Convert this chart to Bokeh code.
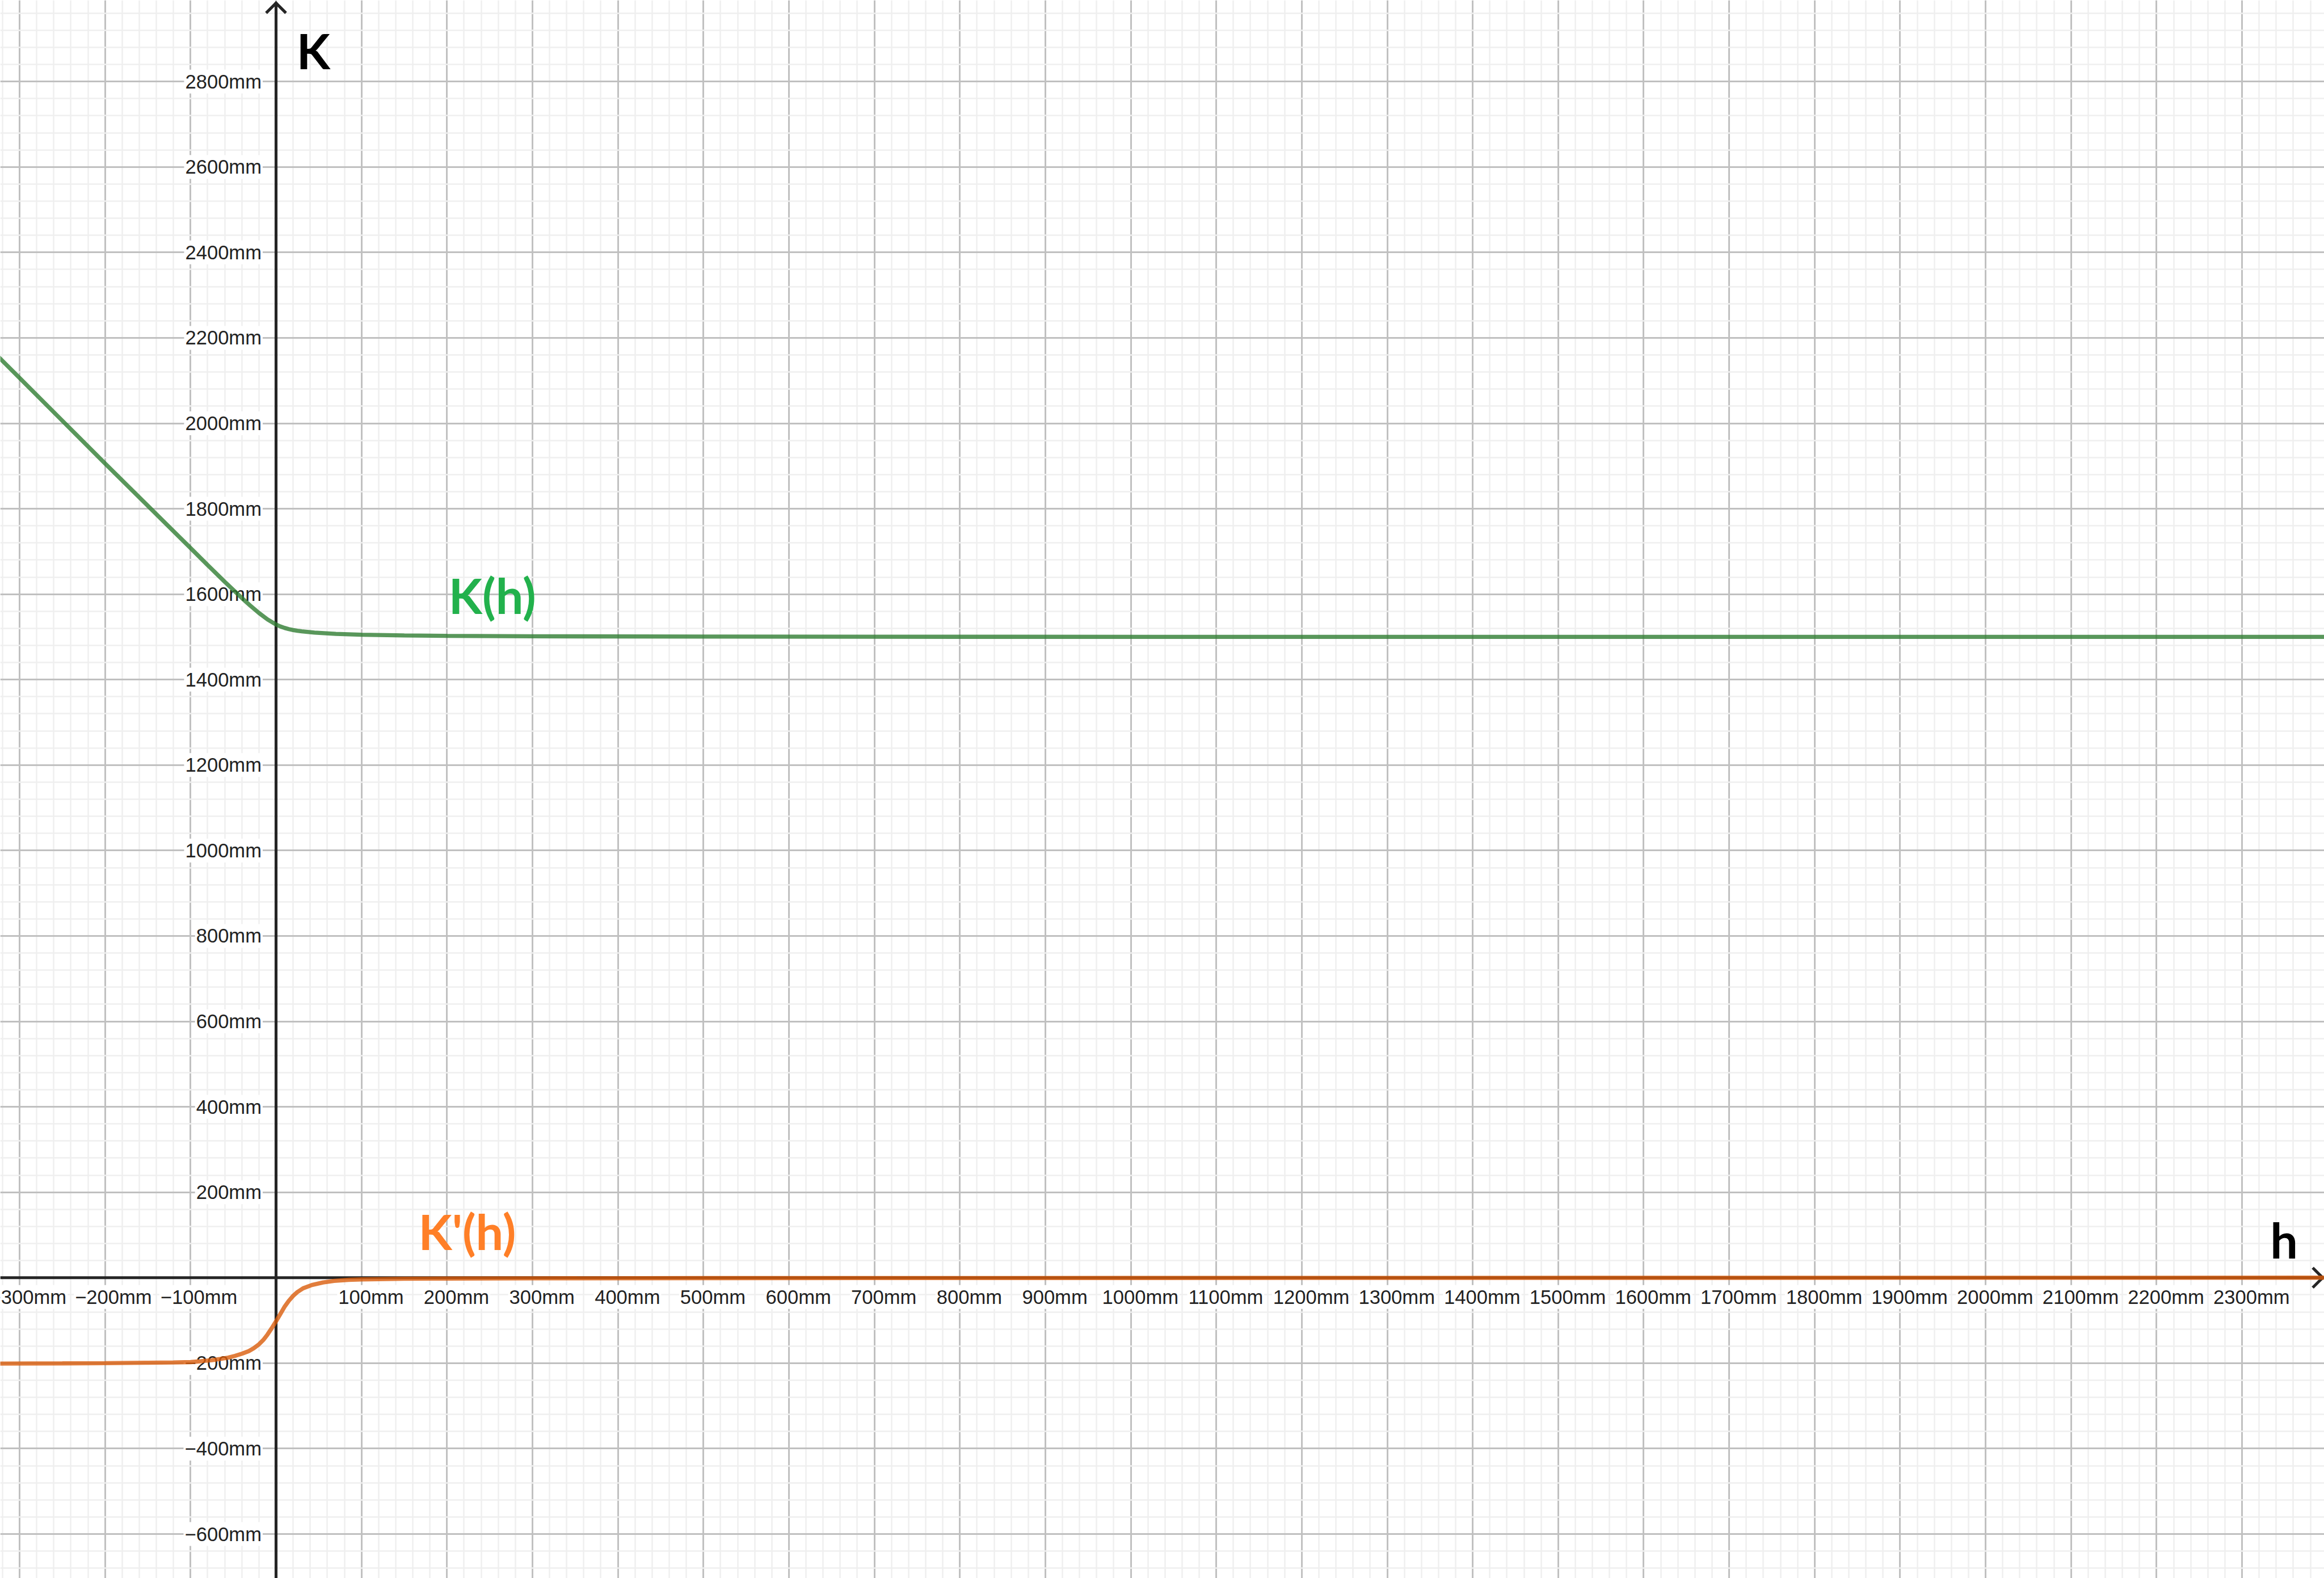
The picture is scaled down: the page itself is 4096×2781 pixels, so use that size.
from bokeh.plotting import figure
from bokeh.models import Range1d, Grid, SingleIntervalTicker, ColumnDataSource
from bokeh.core.properties import value
from bokeh.embed import file_html
from bokeh.resources import INLINE

# ---------------- data (mm) ----------------
h_K = [-325, -300, -250, -200, -150, -100, -80, -60, -50, -40, -30, -20, -10, -5,
       0, 5, 10, 15, 20, 25, 30, 45, 70, 100, 150, 200, 300, 500, 800, 1200, 2400]
K_vals = [2156, 2106, 2006, 1906, 1807, 1708, 1668, 1629, 1610, 1591, 1573, 1556, 1541, 1535,
          1529, 1524.5, 1521, 1518.2, 1516, 1514.3, 1513, 1510, 1507, 1505, 1503.5, 1502.5,
          1501.5, 1500.8, 1500.3, 1500, 1500]

h_dK = [-325, -250, -200, -150, -120, -100, -88, -75, -65, -56, -48, -40, -32, -26, -20,
        -15, -10, -5, 0, 5, 10, 15, 20, 25, 32, 42, 55, 68, 85, 100, 150, 200, 300, 500,
        1000, 1600, 2400]
dK_vals = [-201, -200.5, -200, -199, -198.3, -197.5, -195.5, -193, -190, -187, -183, -178,
           -172, -165, -156, -146, -133, -118, -102, -85, -68, -54, -42.5, -33.5, -24.5,
           -17, -11, -7.5, -5, -4, -2.5, -2, -1.5, -1, -0.6, -0.3, 0]

x_tick_values = [-300, -200, -100, 100, 200, 300, 400, 500, 600, 700, 800, 900, 1000, 1100,
                 1200, 1300, 1400, 1500, 1600, 1700, 1800, 1900, 2000, 2100, 2200, 2300]
y_tick_values = [-600, -400, -200, 200, 400, 600, 800, 1000, 1200, 1400, 1600, 1800, 2000,
                 2200, 2400, 2600, 2800]
x_tick_labels = [f"{v}mm".replace("-", "\u2212") for v in x_tick_values]
y_tick_labels = [f"{v}mm".replace("-", "\u2212") for v in y_tick_values]

# ---------------- layout ----------------
S = 4096 / 4176.0
W, H = 4096, 2781
X0, X1 = -322.6, 2396.2
Y0, Y1 = -703.6, 2990.2
PXX = W / (X1 - X0)   # screen px per mm (x)
PXY = H / (Y1 - Y0)   # screen px per mm (y)

p = figure(width=W, height=H, x_range=Range1d(X0, X1), y_range=Range1d(Y0, Y1),
           x_axis_type=None, y_axis_type=None, output_backend="svg",
           toolbar_location=None, min_border=0, outline_line_color=None, title=None,
           background_fill_color="white", border_fill_color="white")

gx = Grid(dimension=0, ticker=SingleIntervalTicker(interval=100, num_minor_ticks=5),
          grid_line_color="#c0c0c0", grid_line_width=3 * S,
          minor_grid_line_color="#efefef", minor_grid_line_width=2.5 * S)
gy = Grid(dimension=1, ticker=SingleIntervalTicker(interval=200, num_minor_ticks=5),
          grid_line_color="#c0c0c0", grid_line_width=3 * S,
          minor_grid_line_color="#efefef", minor_grid_line_width=2.5 * S)
p.add_layout(gx, "center")
p.add_layout(gy, "center")

AX = "#252525"
# axes with open arrow heads
x_tip = X1 - 3 * S / PXX
y_tip = Y1 - 5 * S / PXY
arm = 16 * S
p.segment(x0=[X0, 0], y0=[0, Y0], x1=[x_tip, 0], y1=[0, y_tip],
          line_color=AX, line_width=5.2 * S)
p.segment(x0=[x_tip - arm / PXX, x_tip - arm / PXX, -arm / PXX, arm / PXX],
          y0=[arm / PXY, -arm / PXY, y_tip - arm / PXY, y_tip - arm / PXY],
          x1=[x_tip, x_tip, 0, 0], y1=[0, 0, y_tip, y_tip],
          line_color=AX, line_width=5.2 * S, line_cap="square")

TICK_FONT = value("Liberation Sans")
TFS = f"{35.3 * S:.1f}px"
xsrc = ColumnDataSource(dict(x=x_tick_values, y=[0] * len(x_tick_values), t=x_tick_labels,
                             xo=[(15 if v < 0 else 17) * S for v in x_tick_values]))
p.text(x="x", y="y", text="t", source=xsrc, text_font=TICK_FONT, text_font_size=TFS,
       text_color="#222222", text_align="center", text_baseline="alphabetic",
       x_offset="xo", y_offset=48 * S - 13, background_fill_color="white", padding=2)
ysrc = ColumnDataSource(dict(x=[0] * len(y_tick_values), y=y_tick_values, t=y_tick_labels))
p.text(x="x", y="y", text="t", source=ysrc, text_font=TICK_FONT, text_font_size=TFS,
       text_color="#222222", text_align="right", text_baseline="middle",
       x_offset=-24 * S, y_offset=0, background_fill_color="white", padding=2)

# curves
p.line(h_K, K_vals, line_color="#2f7d32", line_alpha=0.8, line_width=7.5 * S)
p.line(h_dK, dK_vals, line_color="#da5d0b", line_alpha=0.8, line_width=7.5 * S)

# labels
BIG = value("Lato")
BFS = f"{88 * S:.1f}px"
BIG_YO = -28
p.text(x=[24, 2333], y=[2836.5, 52], text=["K", "h"], text_font=BIG, text_font_size=BFS,
       text_font_style="bold", text_color="black", text_baseline="alphabetic", y_offset=BIG_YO)
p.text(x=[202], y=[1561], text=["K(h)"], text_font=BIG, text_font_size=BFS,
       text_font_style="bold", text_color="#22b14c", text_baseline="alphabetic", y_offset=BIG_YO)
p.text(x=[166.6], y=[71.7], text=["K'(h)"], text_font=BIG, text_font_size=BFS,
       text_font_style="bold", text_color="#ff7f27", text_baseline="alphabetic", y_offset=BIG_YO)

html = file_html(p, INLINE)
html = html.replace("<head>", "<head><style>html,body{margin:0;padding:0;background:white;}</style>", 1)
open("out.html", "w").write(html)
